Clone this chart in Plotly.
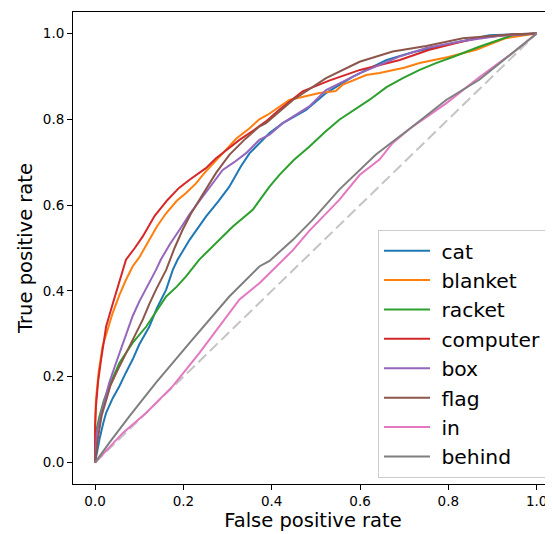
import plotly.graph_objects as go

# ---- data ----
labels = ["cat", "blanket", "racket", "computer", "box", "flag", "in", "behind"]
colors = ["#1f77b4", "#ff7f0e", "#2ca02c", "#d62728", "#9467bd", "#8c564b", "#e377c2", "#7f7f7f"]

cat_fpr = [0, 0.005, 0.01, 0.018, 0.025, 0.04, 0.055, 0.07, 0.085, 0.10, 0.123, 0.14, 0.161, 0.176, 0.187, 0.214, 0.251, 0.28, 0.304, 0.33, 0.35, 0.372, 0.395, 0.425, 0.478, 0.523, 0.583, 0.659, 0.719, 0.80, 0.893, 1.0]
cat_tpr = [0, 0.03, 0.054, 0.09, 0.116, 0.15, 0.178, 0.21, 0.24, 0.275, 0.317, 0.36, 0.403, 0.449, 0.473, 0.519, 0.573, 0.61, 0.643, 0.69, 0.721, 0.744, 0.768, 0.791, 0.822, 0.861, 0.899, 0.938, 0.956, 0.975, 0.996, 1.0]

blanket_fpr = [0, 0.0, 0.002, 0.008, 0.017, 0.028, 0.04, 0.055, 0.07, 0.085, 0.10, 0.119, 0.14, 0.161, 0.185, 0.206, 0.228, 0.248, 0.27, 0.289, 0.32, 0.35, 0.372, 0.39, 0.42, 0.44, 0.508, 0.545, 0.56, 0.614, 0.644, 0.70, 0.735, 0.80, 0.863, 0.93, 1.0]
blanket_tpr = [0, 0.09, 0.147, 0.21, 0.271, 0.31, 0.349, 0.39, 0.426, 0.457, 0.478, 0.512, 0.55, 0.581, 0.61, 0.628, 0.65, 0.675, 0.70, 0.721, 0.755, 0.779, 0.80, 0.81, 0.83, 0.845, 0.861, 0.866, 0.88, 0.903, 0.908, 0.92, 0.931, 0.945, 0.962, 0.989, 1.0]

racket_fpr = [0, 0.0, 0.004, 0.01, 0.02, 0.032, 0.055, 0.085, 0.116, 0.14, 0.161, 0.185, 0.206, 0.236, 0.274, 0.312, 0.357, 0.395, 0.417, 0.45, 0.485, 0.52, 0.553, 0.59, 0.621, 0.66, 0.697, 0.735, 0.772, 0.81, 0.87, 0.946, 1.0]
racket_tpr = [0, 0.04, 0.08, 0.108, 0.145, 0.178, 0.232, 0.279, 0.317, 0.355, 0.387, 0.41, 0.434, 0.473, 0.512, 0.55, 0.589, 0.643, 0.67, 0.705, 0.736, 0.77, 0.799, 0.825, 0.845, 0.875, 0.896, 0.915, 0.931, 0.945, 0.969, 0.996, 1.0]

computer_fpr = [0, 0.0, 0.002, 0.007, 0.0136, 0.025, 0.04, 0.055, 0.07, 0.09, 0.108, 0.135, 0.164, 0.19, 0.214, 0.251, 0.274, 0.30, 0.327, 0.36, 0.387, 0.417, 0.47, 0.53, 0.60, 0.69, 0.757, 0.82, 0.87, 0.93, 1.0]
computer_tpr = [0, 0.08, 0.131, 0.19, 0.24, 0.317, 0.37, 0.42, 0.473, 0.50, 0.527, 0.575, 0.612, 0.64, 0.659, 0.686, 0.709, 0.73, 0.752, 0.775, 0.795, 0.822, 0.865, 0.89, 0.915, 0.938, 0.962, 0.978, 0.99, 0.996, 1.0]

box_fpr = [0, 0.004, 0.014, 0.022, 0.032, 0.045, 0.055, 0.07, 0.085, 0.10, 0.123, 0.138, 0.149, 0.17, 0.191, 0.215, 0.244, 0.265, 0.289, 0.315, 0.342, 0.372, 0.395, 0.425, 0.485, 0.523, 0.599, 0.689, 0.75, 0.83, 0.92, 1.0]
box_tpr = [0, 0.07, 0.116, 0.15, 0.186, 0.225, 0.255, 0.30, 0.341, 0.375, 0.418, 0.449, 0.473, 0.51, 0.542, 0.58, 0.62, 0.65, 0.682, 0.70, 0.721, 0.752, 0.764, 0.791, 0.83, 0.868, 0.907, 0.946, 0.966, 0.982, 0.995, 1.0]

flag_fpr = [0, 0.003, 0.006, 0.015, 0.025, 0.035, 0.048, 0.063, 0.078, 0.093, 0.108, 0.123, 0.138, 0.161, 0.18, 0.198, 0.217, 0.236, 0.255, 0.274, 0.304, 0.342, 0.372, 0.387, 0.448, 0.523, 0.599, 0.674, 0.75, 0.833, 0.946, 1.0]
flag_tpr = [0, 0.03, 0.054, 0.11, 0.147, 0.18, 0.209, 0.24, 0.271, 0.30, 0.333, 0.37, 0.403, 0.449, 0.50, 0.542, 0.58, 0.612, 0.645, 0.675, 0.717, 0.756, 0.783, 0.791, 0.845, 0.896, 0.934, 0.958, 0.971, 0.989, 0.998, 1.0]

in_fpr = [0, 0.063, 0.116, 0.176, 0.236, 0.327, 0.372, 0.448, 0.485, 0.553, 0.599, 0.644, 0.674, 0.719, 0.795, 0.87, 0.946, 1.0]
in_tpr = [0, 0.069, 0.116, 0.178, 0.255, 0.38, 0.418, 0.495, 0.54, 0.612, 0.67, 0.706, 0.745, 0.783, 0.837, 0.898, 0.955, 1.0]

behind_fpr = [0, 0.032, 0.078, 0.138, 0.214, 0.304, 0.372, 0.395, 0.448, 0.493, 0.553, 0.636, 0.719, 0.795, 0.87, 0.946, 1.0]
behind_tpr = [0, 0.046, 0.108, 0.186, 0.279, 0.387, 0.457, 0.47, 0.519, 0.566, 0.636, 0.718, 0.783, 0.845, 0.892, 0.956, 1.0]

diag_x = [0, 1]
diag_y = [0, 1]

xticks = [0.0, 0.2, 0.4, 0.6, 0.8, 1.0]
yticks = [0.0, 0.2, 0.4, 0.6, 0.8, 1.0]

series = [
    (cat_fpr, cat_tpr), (blanket_fpr, blanket_tpr), (racket_fpr, racket_tpr),
    (computer_fpr, computer_tpr), (box_fpr, box_tpr), (flag_fpr, flag_tpr),
    (in_fpr, in_tpr), (behind_fpr, behind_tpr),
]

FONT = "DejaVu Sans"

fig = go.Figure()
fig.add_trace(go.Scatter(x=diag_x, y=diag_y, mode="lines", showlegend=False,
                         line=dict(color="#c4c4c4", width=2, dash="11px,5px"),
                         hoverinfo="skip"))
for (fx, ty), name, col in zip(series, labels, colors):
    # leading space only widens the gap between legend line and label
    fig.add_trace(go.Scatter(x=fx, y=ty, mode="lines", name=" " + name,
                             line=dict(color=col, width=2)))

# The page has an 8px body margin, so the figure is sized to the visible area.
fig.update_layout(
    width=545, height=526,
    margin=dict(l=65, r=0, t=4, b=50, autoexpand=False),
    paper_bgcolor="white", plot_bgcolor="white",
    font=dict(family=FONT, color="#000000"),
    legend=dict(x=(370 - 65) / 480, y=(476 - 470) / 472, xanchor="left", yanchor="bottom",
                bgcolor="rgba(255,255,255,0.8)", bordercolor="#cccccc", borderwidth=1,
                font=dict(family=FONT, size=20.3, color="#000000"),
                itemwidth=46, entrywidth=165, entrywidthmode="pixels"),
    xaxis=dict(range=[-0.05, 1.037], tickvals=xticks, tickformat=".1f",
               automargin=False,
               showgrid=False, zeroline=False, showline=True, mirror=True,
               linecolor="#000000", linewidth=1, ticks="outside", ticklen=5,
               tickwidth=1, tickcolor="#000000",
               tickfont=dict(family=FONT, size=13.5, color="#000000"),
               title=dict(text="False positive rate", font=dict(family=FONT, size=19.5),
                          standoff=4)),
    yaxis=dict(range=[-0.05, 1.05], tickvals=yticks, tickformat=".1f",
               automargin=False,
               showgrid=False, zeroline=False, showline=True, mirror=False,
               linecolor="#000000", linewidth=1, ticks="outside", ticklen=5,
               tickwidth=1, tickcolor="#000000",
               tickfont=dict(family=FONT, size=13.5, color="#000000"),
               title=dict(text="True positive rate", font=dict(family=FONT, size=19.5),
                          standoff=4)),
)

fig.write_html("out.html")
